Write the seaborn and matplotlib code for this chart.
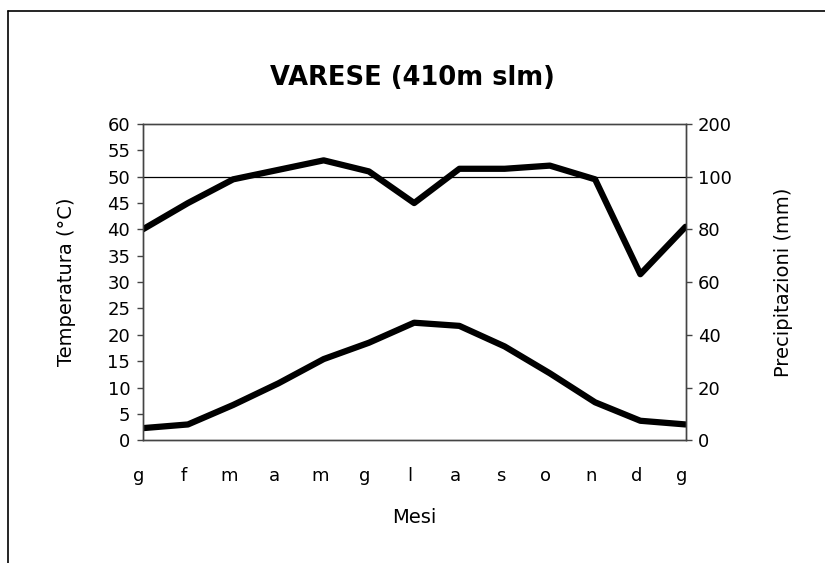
import numpy as np
import matplotlib
matplotlib.use("Agg")
import matplotlib.pyplot as plt
import matplotlib.transforms as mtransforms
import seaborn as sns
from matplotlib.lines import Line2D

# monthly data, Varese (410 m slm)
mesi = ['g', 'f', 'm', 'a', 'm', 'g', 'l', 'a', 's', 'o', 'n', 'd', 'g']
temperatura = [2.3, 3.0, 6.7, 10.8, 15.4, 18.5, 22.3, 21.7, 17.8, 12.7, 7.2, 3.7, 3.0]
precipitazioni = [80, 90, 99, 113, 131, 110, 90, 115, 115, 121, 99, 63, 81]
ticks_temp = list(range(0, 65, 5))
ticks_prec = [0, 20, 40, 60, 80, 100, 200]

sns.set_style("white")
plt.rcParams['font.family'] = ['DejaVu Sans']
plt.rcParams['text.color'] = 'black'
plt.rcParams['axes.labelcolor'] = 'black'

fig = plt.figure(figsize=(8.25, 5.63), dpi=100)
ax = fig.add_axes([0.173, 0.218, 0.658, 0.5618])

x = np.arange(len(mesi))

# temperature on the left axis
sns.lineplot(x=x, y=temperatura, ax=ax, color='black', lw=4.5)
ax.set_xlim(0, len(mesi) - 1)
ax.set_ylim(0, 60)
ax.set_yticks(ticks_temp)
ax.set_xticks(x)
ax.set_xticklabels(mesi)
ax.axhline(50, color='black', lw=0.9, zorder=1)


# Walter-Lieth style precipitation axis: 2 mm per degree up to 100 mm, compressed above
def fwd(v):
    v = np.asarray(v, dtype=float)
    return np.where(v <= 100, v / 2.0, 50 + (v - 100) / 10.0)


def inv(t):
    t = np.asarray(t, dtype=float)
    return np.where(t <= 50, t * 2.0, 100 + (t - 50) * 10.0)


ax2 = ax.twinx()
ax2.set_yscale('function', functions=(fwd, inv))
sns.lineplot(x=x, y=precipitazioni, ax=ax2, color='black', lw=4.5)
ax2.set_ylim(0, 200)
ax2.set_yticks(ticks_prec)
ax2.set_yticklabels([str(t) for t in ticks_prec])
ax2.set_xlim(0, len(mesi) - 1)

for a in (ax, ax2):
    for s in a.spines.values():
        s.set_color('#444444')
        s.set_linewidth(1.0)
ax.spines['top'].set_color('black')
ax.spines['top'].set_linewidth(0.9)

ax.tick_params(axis='y', direction='out', length=4, width=1, color='#444444',
               labelcolor='black', pad=5, labelsize=13, left=True)
ax.tick_params(axis='x', length=0, pad=19, labelsize=13, labelcolor='black')
ax2.tick_params(axis='y', direction='out', length=4, width=1, color='#444444',
                labelcolor='black', pad=5, labelsize=13, right=True)

# month letters sit slightly left of the data points in the original
shift = mtransforms.ScaledTranslation(-4 / 100, 0, fig.dpi_scale_trans)
for lab in ax.get_xticklabels():
    lab.set_transform(lab.get_transform() + shift)

ax.set_ylabel('Temperatura (°C)', fontsize=14)
ax.yaxis.set_label_coords(-0.123, 0.5)
ax2.set_ylabel('Precipitazioni (mm)', fontsize=14)
ax2.yaxis.set_label_coords(1.163, 0.5)
ax.set_xlabel('Mesi', fontsize=14)
ax.xaxis.set_label_coords(0.5, -0.215)

fig.text(0.5, 0.861, 'VARESE (410m slm)', ha='center', va='center',
         fontsize=18.5, fontweight='bold', color='black')

# outer frame (top and left edges)
fig.add_artist(Line2D([0.0103, 0.0103], [0, 0.9805], color='black', lw=1.2,
                      transform=fig.transFigure))
fig.add_artist(Line2D([0.0103, 1], [0.9805, 0.9805], color='black', lw=1.2,
                      transform=fig.transFigure))

fig.savefig('out.png', dpi=100)
